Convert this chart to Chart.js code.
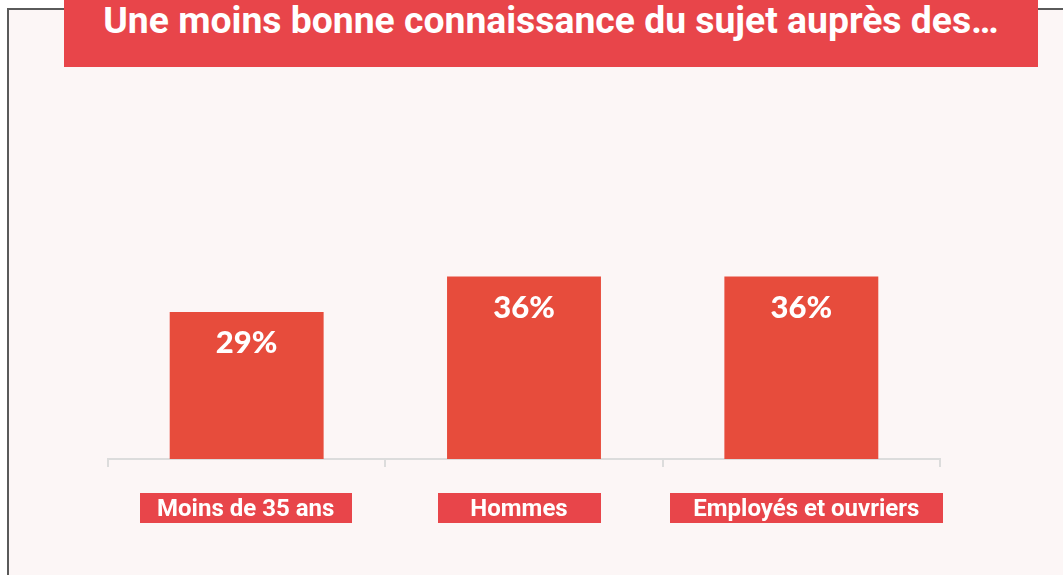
<!DOCTYPE html>
<html><head><meta charset="utf-8">
<script src="https://cdn.jsdelivr.net/npm/chart.js@4.4.1/dist/chart.umd.min.js"></script>
<style>
html,body{margin:0;padding:0;background:#fff;width:1063px;height:575px;overflow:hidden}
#frame{position:absolute;left:7px;top:8px;width:1100px;height:600px;border-left:2px solid #5a5a5a;border-top:2px solid #5a5a5a;background:#fcf6f6;box-sizing:border-box}
#title{position:absolute;left:64px;top:0;width:974px;height:67px;background:#e8454a;color:#fff;font-family:Roboto,sans-serif;font-weight:bold;font-size:37.3px;line-height:40px;padding-top:0;box-sizing:border-box;text-align:center;white-space:nowrap;z-index:3}
#wrap{position:absolute;left:0;top:0;width:1063px;height:575px;z-index:2}
</style></head>
<body>
<div id="frame"></div>
<div id="title">Une moins bonne connaissance du sujet auprès des…</div>
<div id="wrap"><canvas id="c" width="1063" height="575"></canvas></div>
<script>
const categories = ['Moins de 35 ans', 'Hommes', 'Employés et ouvriers'];
const values = [29, 36, 36];
const valueLabels = ['29%', '36%', '36%'];

const BAR_COLOR = '#e74c3c';
const BOX_COLOR = '#e8454a';
const boxWidths = [212, 163, 273];
const boxShift = [-1, -5, 5];

const valueLabelPlugin = {
  id: 'valueLabels',
  afterDatasetsDraw(chart) {
    const ctx = chart.ctx;
    const meta = chart.getDatasetMeta(0);
    ctx.save();
    ctx.font = '900 31px Lato, Roboto, sans-serif';
    ctx.fillStyle = '#ffffff';
    ctx.textAlign = 'center';
    ctx.textBaseline = 'middle';
    meta.data.forEach((bar, i) => {
      ctx.fillText(valueLabels[i], bar.x, bar.y + 31);
    });
    ctx.restore();
  }
};

const categoryBoxPlugin = {
  id: 'categoryBoxes',
  afterDraw(chart) {
    const ctx = chart.ctx;
    const xs = chart.scales.x;
    const top = xs.top + 34;
    ctx.save();
    ctx.font = 'bold 24px Roboto, sans-serif';
    ctx.textAlign = 'center';
    ctx.textBaseline = 'alphabetic';
    categories.forEach((c, i) => {
      const cx = xs.getPixelForTick(i) + boxShift[i];
      const w = boxWidths[i];
      ctx.fillStyle = BOX_COLOR;
      ctx.fillRect(Math.round(cx - w / 2), top, w, 30);
      ctx.fillStyle = '#ffffff';
      ctx.fillText(c, cx, top + 23);
    });
    ctx.restore();
  }
};

new Chart(document.getElementById('c'), {
  type: 'bar',
  data: {
    labels: categories,
    datasets: [{
      data: values,
      backgroundColor: BAR_COLOR,
      borderWidth: 0,
      categoryPercentage: 1,
      barPercentage: 0.555
    }]
  },
  options: {
    responsive: false,
    animation: false,
    devicePixelRatio: 1,
    layout: { padding: { left: 108, right: 123, top: 155, bottom: 0 } },
    plugins: { legend: { display: false }, title: { display: false }, tooltip: { enabled: false } },
    scales: {
      x: {
        offset: true,
        grid: { display: true, drawOnChartArea: false, drawTicks: true, tickLength: 8, color: '#dcdcdc', lineWidth: 2, offset: true },
        border: { display: true, color: '#dcdcdc', width: 2 },
        ticks: { display: false },
        afterFit(s) { s.height = 116; }
      },
      y: { display: false, min: 0, max: 60 }
    }
  },
  plugins: [valueLabelPlugin, categoryBoxPlugin]
});
</script>
</body></html>
